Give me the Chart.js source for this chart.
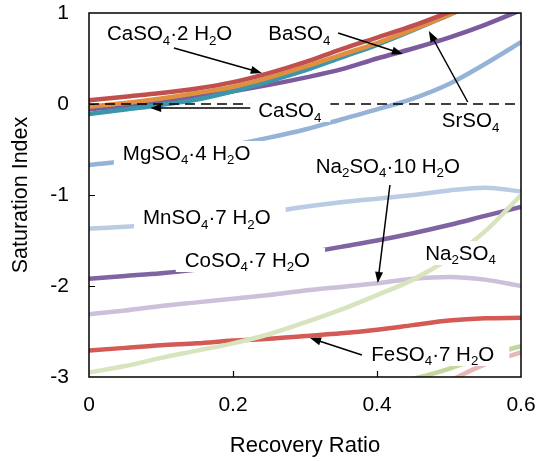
<!DOCTYPE html>
<html>
<head>
<meta charset="utf-8">
<script src="https://cdn.jsdelivr.net/npm/chart.js@4.4.0/dist/chart.umd.min.js"></script>
<style>
  body { margin: 0; background: #fff; }
</style>
</head>
<body>
<canvas id="si-chart" width="538" height="461"></canvas>
<script>
const FONT = '"Liberation Sans", Arial, Helvetica, sans-serif';

// recovery ratio grid used by the main curves
const recovery = [0, 0.05, 0.1, 0.15, 0.2, 0.25, 0.3, 0.35, 0.4, 0.45, 0.5, 0.55, 0.6];

// saturation index (values above 1 are clipped by the axis)
const siGypsum   = [0.04, 0.08, 0.12, 0.17, 0.24, 0.34, 0.46, 0.60, 0.73, 0.86, 1.01, 1.17, 1.34];
const siSrSO4    = [-0.03, 0.01, 0.06, 0.12, 0.19, 0.29, 0.41, 0.54, 0.67, 0.82, 0.98, 1.15, 1.33];
const siCaSO4    = [-0.11, -0.06, -0.01, 0.05, 0.14, 0.25, 0.37, 0.51, 0.65, 0.81, 0.98, 1.15, 1.33];
const siBaSO4    = [-0.06, -0.02, 0.03, 0.08, 0.14, 0.21, 0.29, 0.38, 0.50, 0.61, 0.73, 0.87, 1.03];
const siMgSO4    = [-0.67, -0.63, -0.58, -0.52, -0.45, -0.37, -0.28, -0.17, -0.06, 0.06, 0.22, 0.44, 0.68];
const siMnSO4    = [-1.37, -1.35, -1.32, -1.28, -1.24, -1.19, -1.13, -1.08, -1.04, -1.00, -0.95, -0.92, -0.96];
const siCoSO4    = [-1.92, -1.89, -1.86, -1.82, -1.77, -1.71, -1.64, -1.57, -1.50, -1.42, -1.33, -1.23, -1.13];
const siMirabil  = [-2.31, -2.27, -2.22, -2.18, -2.14, -2.10, -2.05, -2.01, -1.97, -1.92, -1.90, -1.93, -2.00];
const siFeSO4    = [-2.71, -2.68, -2.65, -2.63, -2.60, -2.58, -2.55, -2.52, -2.48, -2.43, -2.38, -2.355, -2.35];
const siNa2SO4   = [-2.95, -2.88, -2.79, -2.71, -2.63, -2.53, -2.40, -2.26, -2.10, -1.93, -1.70, -1.40, -1.00];

// two faint curves that only enter the plot at the bottom right
const tailGreenX = [0.44, 0.47, 0.5, 0.53, 0.56, 0.6];
const tailGreen  = [-3.04, -2.98, -2.91, -2.83, -2.75, -2.66];
const tailPinkX  = [0.5, 0.53, 0.56, 0.6];
const tailPink   = [-3.05, -2.93, -2.83, -2.73];

// labels: text (with _n subscripts), left/baseline anchor in data units,
// pad = white margin right of the text
const labels = [
  { text: 'CaSO_4·2 H_2O',  x: 0.025, y: 0.70,   pad: 15 },
  { text: 'BaSO_4',         x: 0.249, y: 0.70,   pad: 15 },
  { text: 'CaSO_4',         x: 0.235, y: -0.143, pad: 9 },
  { text: 'SrSO_4',         x: 0.490, y: -0.253, pad: 15 },
  { text: 'MgSO_4·4 H_2O',  x: 0.047, y: -0.615, pad: 15 },
  { text: 'MnSO_4·7 H_2O',  x: 0.075, y: -1.319, pad: 15 },
  { text: 'CoSO_4·7 H_2O',  x: 0.133, y: -1.791, pad: 15 },
  { text: 'Na_2SO_4·10 H_2O', x: 0.315, y: -0.758, pad: 15 },
  { text: 'Na_2SO_4',       x: 0.467, y: -1.714, pad: 12 },
  { text: 'FeSO_4·7 H_2O',  x: 0.392, y: -2.824, pad: 15 }
];

// leader arrows: [x1, y1, x2, y2] in data units, head at the second point
const arrows = [
  [0.118, 0.615, 0.240, 0.341],
  [0.346, 0.780, 0.436, 0.549],
  [0.224, -0.044, 0.085, -0.044],
  [0.526, 0.022, 0.472, 0.802],
  [0.418, -0.890, 0.401, -1.967],
  [0.379, -2.758, 0.307, -2.571]
];

const pts = (xs, ys) => xs.map((x, i) => ({ x, y: ys[i] }));

function curve(data, color, width) {
  return {
    data,
    borderColor: color,
    borderWidth: width || 4.5,
    pointRadius: 0,
    fill: false,
    cubicInterpolationMode: 'monotone'
  };
}

function splitRich(text) {
  // "CaSO_4" -> [{t:'CaSO'}, {t:'4', sub:true}]
  return text.split(/(_\d+)/).filter(s => s).map(s =>
    s[0] === '_' ? { t: s.slice(1), sub: true } : { t: s, sub: false });
}

function richWidth(ctx, parts, size) {
  let w = 0;
  for (const p of parts) {
    ctx.font = `${p.sub ? size * 0.65 : size}px ${FONT}`;
    w += ctx.measureText(p.t).width;
  }
  return w;
}

function drawRich(ctx, parts, x, y, size) {
  let cx = x;
  for (const p of parts) {
    ctx.font = `${p.sub ? size * 0.65 : size}px ${FONT}`;
    ctx.fillText(p.t, cx, y + (p.sub ? size * 0.22 : 0));
    cx += ctx.measureText(p.t).width;
  }
}

function drawArrow(ctx, x1, y1, x2, y2) {
  const a = Math.atan2(y2 - y1, x2 - x1);
  const head = 11, half = 4;
  ctx.beginPath();
  ctx.moveTo(x1, y1);
  ctx.lineTo(x2 - head * 0.8 * Math.cos(a), y2 - head * 0.8 * Math.sin(a));
  ctx.stroke();
  ctx.beginPath();
  ctx.moveTo(x2, y2);
  ctx.lineTo(x2 - head * Math.cos(a) + half * Math.sin(a), y2 - head * Math.sin(a) - half * Math.cos(a));
  ctx.lineTo(x2 - head * Math.cos(a) - half * Math.sin(a), y2 - head * Math.sin(a) + half * Math.cos(a));
  ctx.closePath();
  ctx.fill();
}

const annotate = {
  id: 'annotate',
  afterDatasetsDraw(chart) {
    const { ctx, chartArea: area, scales: { x, y } } = chart;
    const size = 20.5;
    ctx.save();
    ctx.textBaseline = 'alphabetic';
    ctx.fillStyle = '#000';

    // labels sit on white boxes that hide the curves behind them
    for (const lab of labels) {
      const parts = splitRich(lab.text);
      const px = x.getPixelForValue(lab.x);
      const py = y.getPixelForValue(lab.y);
      const w = richWidth(ctx, parts, size);
      ctx.fillStyle = '#fff';
      ctx.fillRect(px - 9, py - 19, w + 9 + lab.pad, 24);
      ctx.fillStyle = '#000';
      drawRich(ctx, parts, px, py, size);
    }

    ctx.strokeStyle = '#000';
    ctx.lineWidth = 1.5;
    for (const [a, b, c, d] of arrows) {
      drawArrow(ctx, x.getPixelForValue(a), y.getPixelForValue(b),
                x.getPixelForValue(c), y.getPixelForValue(d));
    }

    // inward tick marks
    ctx.lineWidth = 1.2;
    ctx.beginPath();
    for (const v of [0.2, 0.4]) {
      const px = Math.round(x.getPixelForValue(v)) + 0.5;
      ctx.moveTo(px, area.bottom);
      ctx.lineTo(px, area.bottom - 6);
    }
    for (const v of [-2, -1, 0]) {
      const py = Math.round(y.getPixelForValue(v)) + 0.5;
      ctx.moveTo(area.left, py);
      ctx.lineTo(area.left + 6, py);
    }
    ctx.stroke();

    // frame
    ctx.lineWidth = 1.5;
    ctx.strokeRect(area.left, area.top, area.right - area.left, area.bottom - area.top);
    ctx.restore();
  }
};

const ctx = document.getElementById('si-chart').getContext('2d');
new Chart(ctx, {
  type: 'line',
  data: {
    datasets: [
      {
        data: pts([0, 0.6], [0, 0]),
        borderColor: '#000',
        borderWidth: 1.4,
        borderDash: [10, 6],
        pointRadius: 0
      },
      curve(pts(recovery, siGypsum), '#c0504d'),
      curve(pts(recovery, siSrSO4), '#df8f3d'),
      curve(pts(recovery, siCaSO4), '#3a97ab'),
      curve(pts(recovery, siBaSO4), '#7b5a9e'),
      curve(pts(recovery, siNa2SO4), '#d7e4bd'),
      curve(pts(recovery, siMgSO4), '#95b3d7'),
      curve(pts(recovery, siMnSO4), '#b9cce4'),
      curve(pts(recovery, siCoSO4), '#8064a2'),
      curve(pts(recovery, siMirabil), '#ccc0da'),
      curve(pts(recovery, siFeSO4), '#d45b55'),
      curve(pts(tailGreenX, tailGreen), '#c3d69b'),
      curve(pts(tailPinkX, tailPink), '#e6b9b8')
    ]
  },
  options: {
    responsive: false,
    animation: false,
    events: [],
    layout: { padding: { left: 0, right: 17, top: 13, bottom: 0 } },
    plugins: {
      legend: { display: false },
      tooltip: { enabled: false }
    },
    scales: {
      x: {
        type: 'linear',
        min: 0,
        max: 0.6,
        afterFit: (s) => { s.height = 84; s.paddingLeft = 0; s.paddingRight = 0; },
        grid: { display: false, drawTicks: false },
        border: { display: false },
        ticks: {
          stepSize: 0.2,
          padding: 16,
          maxRotation: 0,
          color: '#000',
          font: { family: FONT, size: 21 }
        },
        title: {
          display: true,
          text: 'Recovery Ratio',
          color: '#000',
          font: { family: FONT, size: 22 },
          padding: { top: 0, bottom: 2 }
        }
      },
      y: {
        min: -3,
        max: 1,
        afterFit: (s) => { s.width = 89; s.paddingTop = 0; s.paddingBottom = 0; },
        grid: { display: false, drawTicks: false },
        border: { display: false },
        ticks: {
          stepSize: 1,
          padding: 20,
          color: '#000',
          font: { family: FONT, size: 21 }
        },
        title: {
          display: true,
          text: 'Saturation Index',
          color: '#000',
          font: { family: FONT, size: 21.5 },
          padding: { top: 8, bottom: 0 }
        }
      }
    }
  },
  plugins: [annotate]
});
</script>
</body>
</html>
